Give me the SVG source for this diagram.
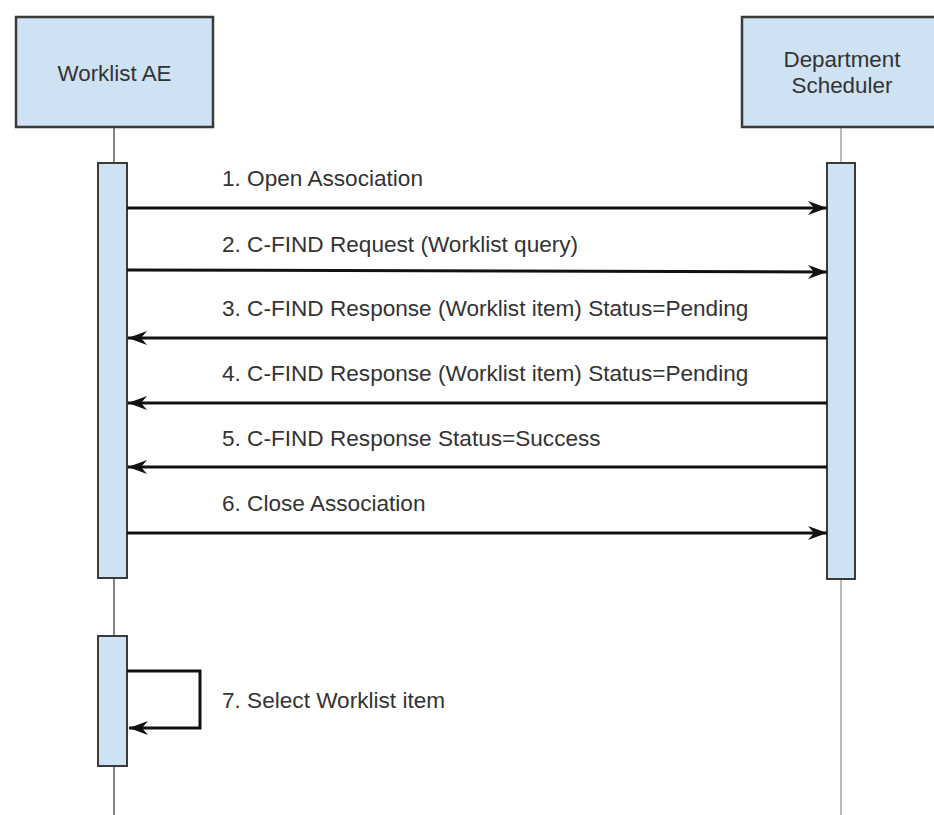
<svg xmlns="http://www.w3.org/2000/svg" width="934" height="815" viewBox="0 0 934 815">
<style>
.box{fill:#cfe2f3;stroke:#3a3a3a;stroke-width:2.5}
.act{fill:#cfe2f3;stroke:#3a3a3a;stroke-width:2}
.life{stroke:#777;stroke-width:1.8}
.lifeR{stroke:#bbb;stroke-width:2}
.msg{fill:none;stroke:#111;stroke-width:3}
.t{font-family:"Liberation Sans",Arial,sans-serif;font-size:22.6px;fill:#333}
.h{font-family:"Liberation Sans",Arial,sans-serif;font-size:22.4px;fill:#333;text-anchor:middle}
</style>
<defs>
<marker id="arr" markerUnits="userSpaceOnUse" markerWidth="20" markerHeight="14" refX="19" refY="7" orient="auto">
<path d="M0,0 L19,7 L0,14 L6,7 Z" fill="#111"/>
</marker>
</defs>
<rect width="934" height="815" fill="#fff"/>
<g id="lifelines">
<line class="life" x1="114" y1="127" x2="114" y2="815"/>
<line class="lifeR" x1="841" y1="127" x2="841" y2="815"/>
</g>
<g id="worklist-ae">
<rect class="box" x="16" y="17" width="197" height="110"/>
<text class="h" x="114.5" y="81">Worklist AE</text>
</g>
<g id="department-scheduler">
<rect class="box" x="742" y="17" width="200" height="110"/>
<text class="h" x="842" y="67">Department</text>
<text class="h" x="842" y="93">Scheduler</text>
</g>
<g id="activation-worklist-1"><rect class="act" x="98" y="163" width="29" height="415"/></g>
<g id="activation-scheduler"><rect class="act" x="827" y="163" width="28" height="416"/></g>
<g id="activation-worklist-2"><rect class="act" x="98" y="636" width="29" height="130"/></g>
<g id="connectors">
<line class="msg" x1="127" y1="208" x2="827" y2="208" marker-end="url(#arr)"/>
<line class="msg" x1="127" y1="270" x2="827" y2="272" marker-end="url(#arr)"/>
<line class="msg" x1="827" y1="338" x2="128" y2="338" marker-end="url(#arr)"/>
<line class="msg" x1="827" y1="403" x2="128" y2="403" marker-end="url(#arr)"/>
<line class="msg" x1="827" y1="467" x2="128" y2="467" marker-end="url(#arr)"/>
<line class="msg" x1="127" y1="533" x2="827" y2="533" marker-end="url(#arr)"/>
<polyline class="msg" points="127,671 200,671 200,728 129,728" marker-end="url(#arr)"/>
</g>
<g id="labels">
<text class="t" x="222" y="186">1. Open Association</text>
<text class="t" x="222" y="252">2. C-FIND Request (Worklist query)</text>
<text class="t" x="222" y="316">3. C-FIND Response (Worklist item) Status=Pending</text>
<text class="t" x="222" y="381">4. C-FIND Response (Worklist item) Status=Pending</text>
<text class="t" x="222" y="446">5. C-FIND Response Status=Success</text>
<text class="t" x="222" y="511">6. Close Association</text>
<text class="t" x="222" y="708">7. Select Worklist item</text>
</g>
</svg>
